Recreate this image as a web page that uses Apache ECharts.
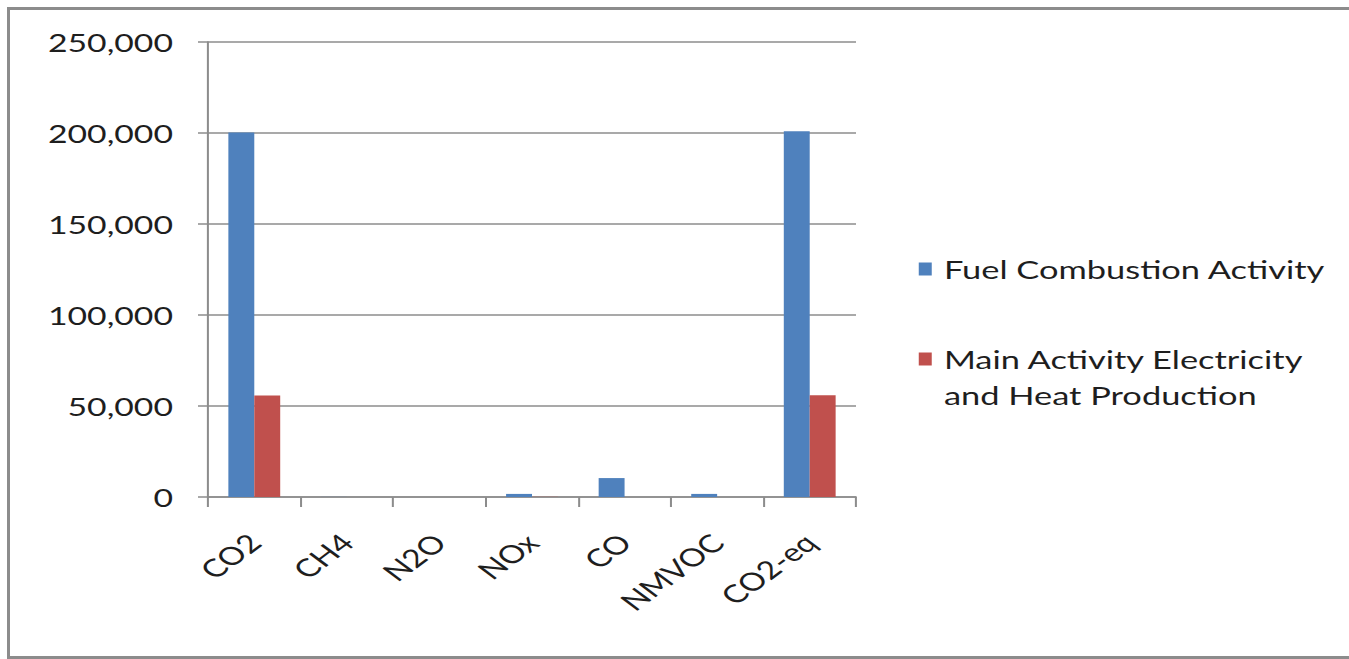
<!DOCTYPE html>
<html>
<head>
<meta charset="utf-8">
<script src="https://cdn.jsdelivr.net/npm/echarts@6/dist/echarts.min.js"></script>
<style>
  html, body { margin: 0; padding: 0; background: #ffffff; overflow: hidden; }
  #frame {
    position: absolute; left: 7px; top: 7px; width: 1420px; height: 652px;
    border-left: 3px solid #8c8c8c; border-top: 3px solid #8c8c8c; border-bottom: 3px solid #8c8c8c;
    box-sizing: border-box;
  }
  #chart { position: absolute; left: 0; top: 0; height: 659px; transform-origin: 0 0; }
</style>
</head>
<body>
<div id="frame"></div>
<div id="chart"></div>
<script>
// Emissions by gas (Gg)
const categories = ['CO2', 'CH4', 'N2O', 'NOx', 'CO', 'NMVOC', 'CO2-eq'];
const fuelCombustion = [200300, 40, 8, 1700, 10400, 1700, 201000];
const electricityHeat = [55800, 2, 1, 90, 10, 2, 55900];
const seriesNames = ['Fuel Combustion Activity', 'Main Activity Electricity and Heat Production'];
const yTicks = [0, 50000, 100000, 150000, 200000, 250000];

// Wide lettering: the chart is laid out narrower and stretched horizontally
const S = 1.35;
const W = 1349 / S;
const el = document.getElementById('chart');
el.style.width = W + 'px';
el.style.transform = 'scaleX(' + S + ')';

const FONT = 'Lato';
const TEXT = '#1e1e1e';
const chart = echarts.init(el, null, { renderer: 'svg' });

const legendText = { fontFamily: FONT, fontSize: 25.5, color: TEXT, lineHeight: 36, padding: [0, 0, 0, 4] };

chart.setOption({
  animation: false,
  color: ['#4F81BD', '#C0504D'],
  grid: { left: 208 / S, top: 42, width: (856 - 208) / S, height: 455, containLabel: false },
  legend: [
    {
      data: [seriesNames[0]],
      orient: 'vertical', left: 912 / S, top: 246,
      icon: 'rect', itemWidth: 13 / S, itemHeight: 13, itemGap: 0,
      textStyle: legendText
    },
    {
      data: [seriesNames[1]],
      orient: 'vertical', left: 912 / S, top: 300,
      icon: 'rect', itemWidth: 13 / S, itemHeight: 13, itemGap: 0,
      // a blank first line keeps the swatch level with the first line of the name
      formatter: () => '\nMain Activity Electricity\nand Heat Production',
      textStyle: legendText
    }
  ],
  xAxis: {
    type: 'category',
    data: categories,
    axisLine: { lineStyle: { color: '#8c8c8c', width: 1.5 } },
    axisTick: { show: true, length: 10, alignWithLabel: false, lineStyle: { color: '#8c8c8c', width: 1.5 } },
    axisLabel: { fontFamily: FONT, fontSize: 25, color: TEXT, rotate: 45, margin: 41, interval: 0 }
  },
  yAxis: {
    type: 'value',
    min: 0, max: 250000, interval: 50000,
    axisLine: { show: true, lineStyle: { color: '#8c8c8c', width: 1.5 } },
    axisTick: { show: true, length: 10 / S, lineStyle: { color: '#8c8c8c', width: 1.5 } },
    splitLine: { show: true, lineStyle: { color: '#8c8c8c', width: 1.5 } },
    axisLabel: {
      fontFamily: FONT, fontSize: 25, color: TEXT, margin: 35 / S,
      customValues: yTicks,
      formatter: v => v.toLocaleString('en-US')
    }
  },
  series: [
    { name: seriesNames[0], type: 'bar', data: fuelCombustion, barGap: '0%', barCategoryGap: '44%' },
    { name: seriesNames[1], type: 'bar', data: electricityHeat, barGap: '0%', barCategoryGap: '44%' }
  ]
});
</script>
</body>
</html>
